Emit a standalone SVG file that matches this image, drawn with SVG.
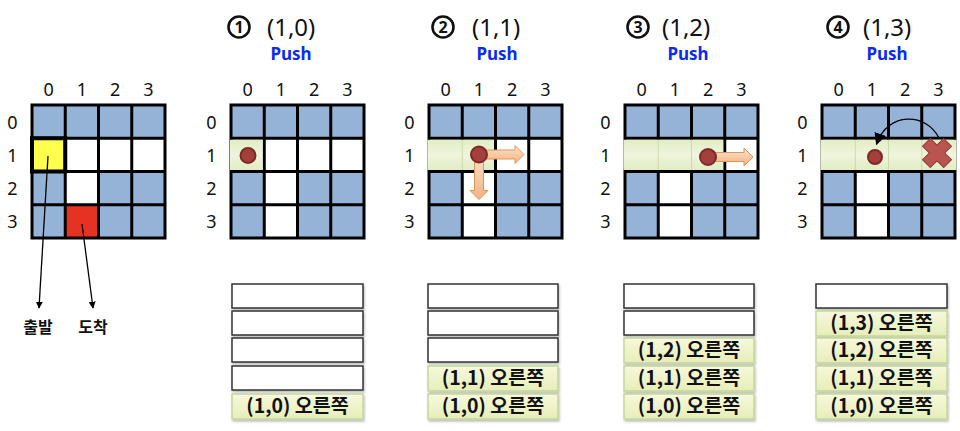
<svg xmlns="http://www.w3.org/2000/svg" xmlns:xlink="http://www.w3.org/1999/xlink" width="960" height="431" viewBox="0 0 960 431">
<style>
.lbl{font-family:"Noto Sans","DejaVu Sans",sans-serif;font-size:18px;fill:#111;text-anchor:middle}
.ttl{font-family:"Noto Sans","DejaVu Sans",sans-serif;font-size:24px;fill:#111}
.ring{fill:none;stroke:#111;stroke-width:2.6}
.num{font-family:"Noto Sans","DejaVu Sans",sans-serif;font-size:16px;font-weight:bold;fill:#111;text-anchor:middle}
.push{font-family:"Noto Sans","DejaVu Sans",sans-serif;font-size:17px;font-weight:bold;fill:#0B2BF0;text-anchor:middle}
.stk{font-family:"Noto Sans CJK KR","Noto Sans",sans-serif;font-size:19.5px;font-weight:bold;fill:#111;text-anchor:middle}
.kor{font-family:"Noto Sans CJK KR",sans-serif;font-size:16px;font-weight:bold;fill:#111;text-anchor:middle}
.empty{fill:#fff;stroke:#333;stroke-width:1.5;filter:url(#sh)}
.full{fill:url(#yg);stroke:#C3D69B;stroke-width:1.5;filter:url(#sh)}
.hl{fill:url(#gg)}
.div{stroke:#CCDAA8;stroke-width:1}
.dot{fill:#A3403C;stroke:#7B2A27;stroke-width:2}
.oarr{fill:url(#og);stroke:#E0955A;stroke-width:1}
.conn{stroke:#000;stroke-width:1.3;fill:none}
</style>
<defs>
<linearGradient id="yg" x1="0" y1="0" x2="0" y2="1"><stop offset="0" stop-color="#F7F9DC"/><stop offset="1" stop-color="#E6EDB8"/></linearGradient>
<linearGradient id="gg" x1="0" y1="0" x2="0" y2="1"><stop offset="0" stop-color="#E2EDC3"/><stop offset="0.5" stop-color="#EFF5DE"/><stop offset="1" stop-color="#E2EDC3"/></linearGradient>
<linearGradient id="og" x1="0" y1="0" x2="0" y2="1"><stop offset="0" stop-color="#FCE3CD"/><stop offset="1" stop-color="#F3B27F"/></linearGradient>
<linearGradient id="ogv" x1="0" y1="0" x2="1" y2="0"><stop offset="0" stop-color="#FCE3CD"/><stop offset="1" stop-color="#F3B27F"/></linearGradient>
<filter id="sh" x="-5%" y="-20%" width="110%" height="150%"><feDropShadow dx="1" dy="2" stdDeviation="1.2" flood-color="#000" flood-opacity="0.25"/></filter>
<marker id="ah" viewBox="0 0 10 10" refX="9" refY="5" markerWidth="7" markerHeight="7" orient="auto" markerUnits="userSpaceOnUse"><path d="M0,0 L10,5 L0,10 Z" fill="#000"/></marker>
<marker id="ah2" viewBox="0 0 10 10" refX="8" refY="5" markerWidth="12" markerHeight="12" orient="auto" markerUnits="userSpaceOnUse"><path d="M0,0 L10,5 L0,10 Z" fill="#000"/></marker>
<g id="cells">
<rect width="133" height="133" fill="#95B3D7"/>
<rect x="0" y="33.25" width="133" height="33.25" fill="#fff"/>
<rect x="33.25" y="66.5" width="33.25" height="66.5" fill="#fff"/>
</g>
<path id="lines" d="M0 0V133M33.25 0V133M66.5 0V133M99.75 0V133M133 0V133M0 0H133M0 33.25H133M0 66.5H133M0 99.75H133M0 133H133" stroke="#000" stroke-width="3" stroke-linecap="square" fill="none"/>
<g id="labels">
<text class="lbl" x="16.6" y="-9">0</text><text class="lbl" x="49.9" y="-9">1</text><text class="lbl" x="83.1" y="-9">2</text><text class="lbl" x="116.4" y="-9">3</text>
<text class="lbl" x="-19.5" y="23.5">0</text><text class="lbl" x="-19.5" y="56.5">1</text><text class="lbl" x="-19.5" y="89.5">2</text><text class="lbl" x="-19.5" y="123">3</text>
</g>
<path id="rarrow" d="M0,-4.5 H36 V-9 L45,0 L36,9 V4.5 H0 Z"/>
</defs>

<!-- Left: maze -->
<g id="maze" transform="translate(32,105)">
<use href="#cells"/>
<rect x="0" y="33.25" width="33.25" height="33.25" fill="#FFFF4D"/>
<rect x="33.25" y="99.75" width="33.25" height="33.25" fill="#E63223"/>
<use href="#lines"/>
<rect x="0" y="33.25" width="33.25" height="33.25" fill="none" stroke="#000" stroke-width="4"/>
<use href="#labels"/>
</g>
<g id="connectors">
<line class="conn" x1="48" y1="156" x2="39" y2="308" marker-end="url(#ah)"/>
<line class="conn" x1="82" y1="224" x2="93" y2="308" marker-end="url(#ah)"/>
</g>
<g id="start"><text class="kor" x="38" y="333">출발</text></g>
<g id="goal"><text class="kor" x="93" y="333">도착</text></g>

<!-- Panel 1 -->
<g id="panel1">
<circle class="ring" cx="239" cy="27" r="10.5"/><text class="num" x="239" y="32.8">1</text>
<text class="ttl" x="267" y="36">(1,0)</text>
<text class="push" x="291" y="60">Push</text>
<g transform="translate(231,105)">
<use href="#cells"/>
<use href="#lines"/>
<rect class="hl" x="-1" y="34.75" width="32.5" height="30.25"/>
<use href="#labels"/>
<circle class="dot" cx="17" cy="50.5" r="7.5"/>
</g>
<g id="stack1">
<rect class="empty" x="232" y="284" width="131" height="24"/>
<rect class="empty" x="232" y="311" width="131" height="24"/>
<rect class="empty" x="232" y="338" width="131" height="24"/>
<rect class="empty" x="232" y="366" width="131" height="24"/>
<rect class="full" x="232" y="394" width="131" height="25"/>
<text class="stk" x="297.5" y="413">(1,0) 오른쪽</text>
</g>
</g>

<!-- Panel 2 -->
<g id="panel2">
<circle class="ring" cx="443" cy="27" r="10.5"/><text class="num" x="443" y="32.8">2</text>
<text class="ttl" x="472" y="36">(1,1)</text>
<text class="push" x="497" y="60">Push</text>
<g transform="translate(429,105)">
<use href="#cells"/>
<use href="#lines"/>
<rect class="hl" x="-1.5" y="34.75" width="66.5" height="30.25"/>
<line class="div" x1="33.25" y1="34.75" x2="33.25" y2="65"/>
<use href="#labels"/>
<use href="#rarrow" class="oarr" transform="translate(50,49.5)"/>
<use href="#rarrow" transform="translate(50,49.5) rotate(90)" fill="url(#ogv)" stroke="#E0955A" stroke-width="1"/>
<circle class="dot" cx="50" cy="49.5" r="8"/>
</g>
<g id="stack2">
<rect class="empty" x="428" y="284" width="130" height="24"/>
<rect class="empty" x="428" y="311" width="130" height="24"/>
<rect class="empty" x="428" y="338" width="130" height="24"/>
<rect class="full" x="428" y="366" width="130" height="25"/>
<text class="stk" x="493" y="385">(1,1) 오른쪽</text>
<rect class="full" x="428" y="394" width="130" height="25"/>
<text class="stk" x="493" y="413">(1,0) 오른쪽</text>
</g>
</g>

<!-- Panel 3 -->
<g id="panel3">
<circle class="ring" cx="638" cy="27" r="10.5"/><text class="num" x="638" y="32.8">3</text>
<text class="ttl" x="662" y="36">(1,2)</text>
<text class="push" x="688" y="60">Push</text>
<g transform="translate(625,105)">
<use href="#cells"/>
<use href="#lines"/>
<rect class="hl" x="-1.5" y="34.75" width="99.75" height="30.25"/>
<line class="div" x1="33.25" y1="34.75" x2="33.25" y2="65"/>
<line class="div" x1="66.5" y1="34.75" x2="66.5" y2="65"/>
<use href="#labels"/>
<use href="#rarrow" class="oarr" transform="translate(83,52)"/>
<circle class="dot" cx="83" cy="52" r="8"/>
</g>
<g id="stack3">
<rect class="empty" x="624" y="284" width="130" height="24"/>
<rect class="empty" x="624" y="311" width="130" height="24"/>
<rect class="full" x="624" y="338" width="130" height="25"/>
<text class="stk" x="689" y="357">(1,2) 오른쪽</text>
<rect class="full" x="624" y="366" width="130" height="25"/>
<text class="stk" x="689" y="385">(1,1) 오른쪽</text>
<rect class="full" x="624" y="394" width="130" height="25"/>
<text class="stk" x="689" y="413">(1,0) 오른쪽</text>
</g>
</g>

<!-- Panel 4 -->
<g id="panel4">
<circle class="ring" cx="838" cy="27" r="10.5"/><text class="num" x="838" y="32.8">4</text>
<text class="ttl" x="863" y="36">(1,3)</text>
<text class="push" x="887" y="60">Push</text>
<g transform="translate(822,105)">
<use href="#cells"/>
<use href="#lines"/>
<rect class="hl" x="-1.5" y="34.75" width="136" height="30.25"/>
<line class="div" x1="33.25" y1="34.75" x2="33.25" y2="65"/>
<line class="div" x1="66.5" y1="34.75" x2="66.5" y2="65"/>
<line class="div" x1="99.75" y1="34.75" x2="99.75" y2="65"/>
<use href="#labels"/>
<circle class="dot" cx="53" cy="52" r="7"/>
<path d="M-5.5,-15 H5.5 V-5.5 H15 V5.5 H5.5 V15 H-5.5 V5.5 H-15 V-5.5 H-5.5 Z" transform="translate(115,48) rotate(45)" fill="#B95450" stroke="#8E3A36" stroke-width="1"/>
</g>
<path class="conn" d="M939,138 C926,112 888,112 877,143" stroke-width="2.5" marker-end="url(#ah2)"/>
<g id="stack4">
<rect class="empty" x="816" y="284" width="131" height="24"/>
<rect class="full" x="816" y="311" width="131" height="25"/>
<text class="stk" x="881.5" y="330">(1,3) 오른쪽</text>
<rect class="full" x="816" y="338" width="131" height="25"/>
<text class="stk" x="881.5" y="357">(1,2) 오른쪽</text>
<rect class="full" x="816" y="366" width="131" height="25"/>
<text class="stk" x="881.5" y="385">(1,1) 오른쪽</text>
<rect class="full" x="816" y="394" width="131" height="25"/>
<text class="stk" x="881.5" y="413">(1,0) 오른쪽</text>
</g>
</g>
</svg>
